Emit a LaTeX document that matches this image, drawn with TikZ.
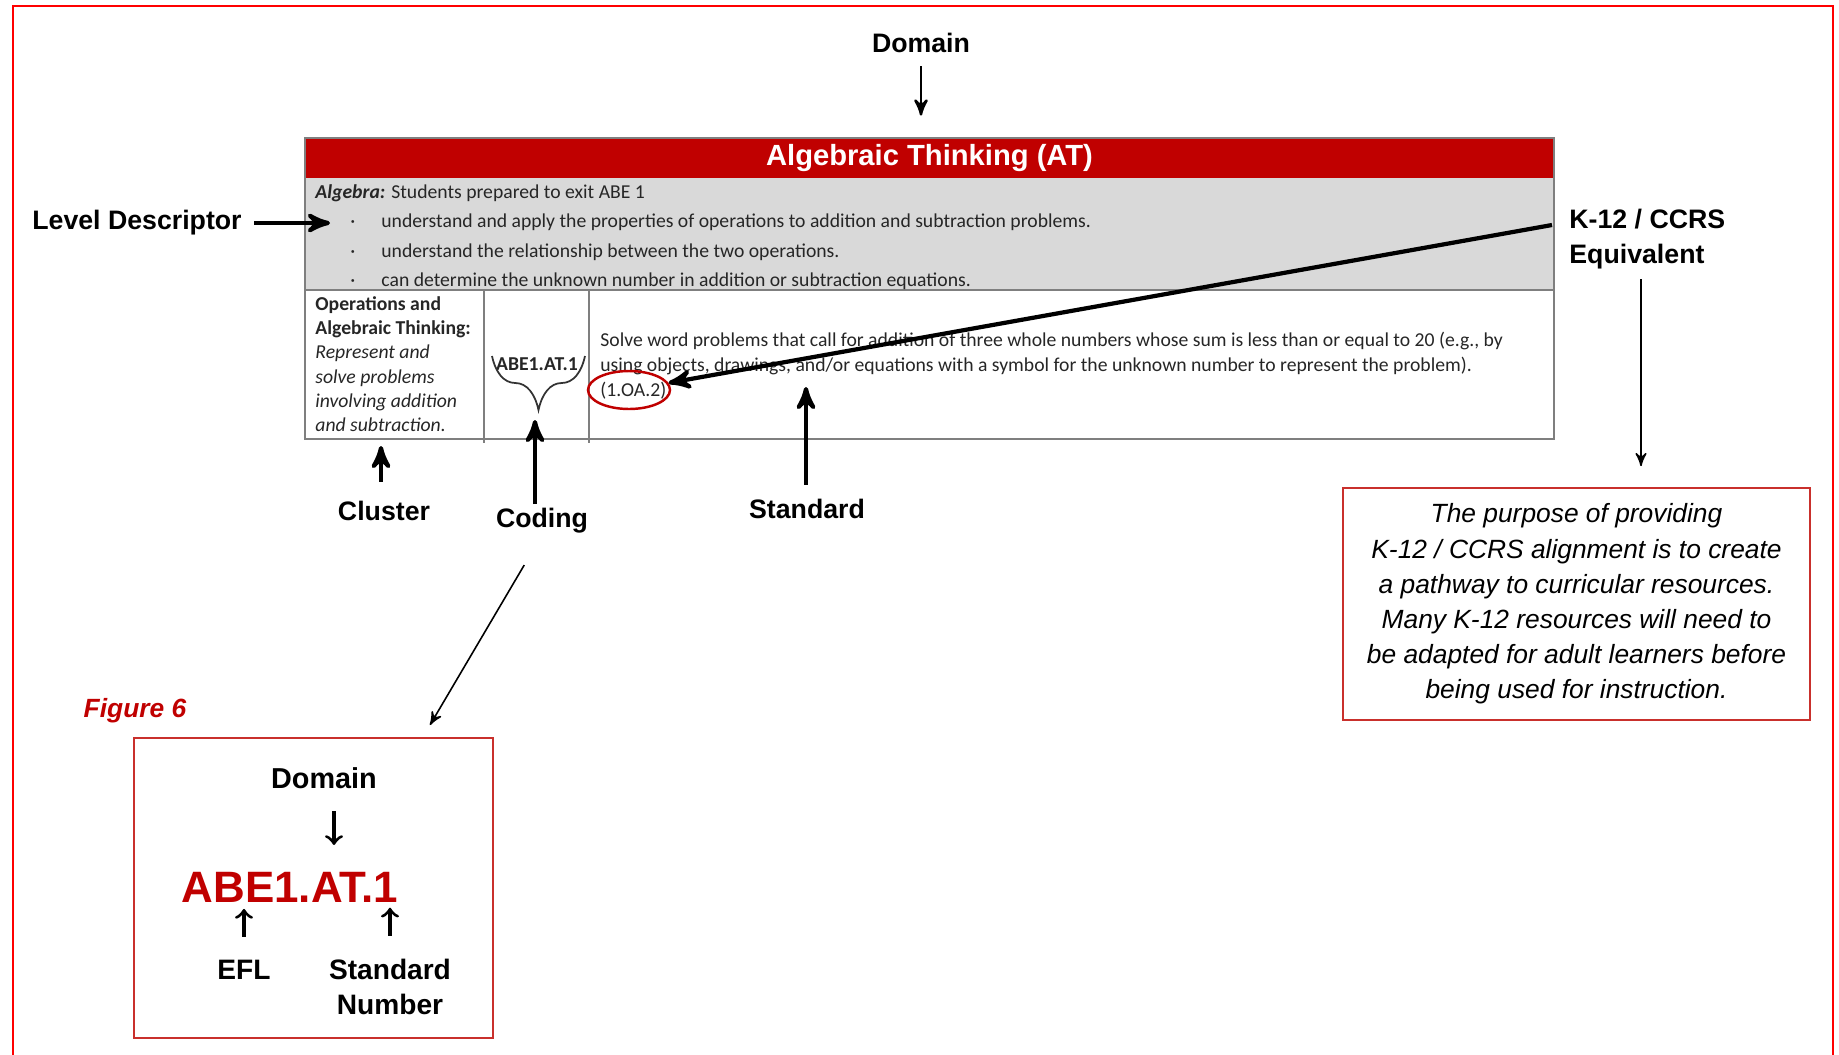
\documentclass[tikz,border=0pt]{standalone}
\usepackage{fontspec}
\setmainfont{Liberation Sans}
\newfontfamily\calib{Carlito}
\usetikzlibrary{arrows,shapes,positioning,decorations.pathreplacing}
\definecolor{barred}{HTML}{C00000}
\definecolor{framered}{HTML}{FF0000}
\definecolor{boxred}{HTML}{C9302C}
\definecolor{cellgray}{HTML}{D9D9D9}
\definecolor{rulegray}{HTML}{7F7F7F}

\begin{document}
\begin{tikzpicture}[x=0.1mm,y=-0.1mm,>=stealth',thick]
\tikzstyle{tag}=[inner sep=0pt,font=\fontsize{7.6}{10}\selectfont\bfseries]
\tikzstyle{cell}=[inner sep=0pt,anchor=west,text=black!85,text height=4pt,text depth=1.2pt,font=\calib\fontsize{5.6}{6.9}\selectfont]
\tikzstyle{block}=[inner sep=0pt,anchor=north west,align=left,text=black!85]
\tikzstyle{fat}=[->,line width=1.2pt]
\tikzstyle{slim}=[->,line width=0.45pt]
\tikzstyle{hook}=[-to,line width=0.9pt]

\useasboundingbox (0,0) rectangle (1839,1055);
\draw[framered,line width=0.6pt] (13,1070) -- (13,6) -- (1833,6) -- (1833,1070);

% the table
\fill[cellgray] (305,178) rectangle (1554,290);
\node[fill=barred,text=white,minimum width=124.9mm,minimum height=4mm,inner sep=0pt,
  font=\fontsize{8.3}{10}\selectfont\bfseries] (bar) at (929.5,158) {\raisebox{-0.6pt}{Algebraic Thinking (AT)}};
\draw[rulegray,line width=0.5pt] (305,138) rectangle (1554,439);
\draw[rulegray,line width=0.5pt] (305,290) -- (1554,290)
  (484,290) -- (484,443) (589,290) -- (589,443);

\node[cell] (alg) at (314,194) {\textbf{\textit{Algebra:}} Students prepared to exit ABE 1};
\node[cell] (b1) at (349,223) {·};
\node[cell] (b2) at (349,253) {·};
\node[cell] (b3) at (349,282) {·};
\node[cell] (d1) at (380,223) {understand and apply the properties of operations to addition and subtraction problems.};
\node[cell] (d2) at (380,253) {understand the relationship between the two operations.};
\node[cell] (d3) at (380,282) {can determine the unknown number in addition or subtraction equations.};

\node[block,font=\calib\fontsize{5.6}{6.9}\selectfont] (clus) at (314,295)
  {\textbf{Operations and}\\\textbf{Algebraic Thinking:}\\\textit{Represent and}\\
   \textit{solve problems}\\\textit{involving addition}\\\textit{and subtraction.}};

\node[cell,anchor=center,font=\calib\bfseries\fontsize{5.6}{6.9}\selectfont] (code) at (537,366) {ABE1.AT.1};
\draw[decorate,decoration={brace,mirror,amplitude=5.4mm},line width=0.5pt,black!80] (492,356) -- (585,356);

\node[block,font=\calib\fontsize{5.6}{7}\selectfont] (stdtext) at (599,331)
  {Solve word problems that call for addition of three whole numbers whose sum is less than or equal to 20 (e.g., by\\
   using objects, drawings, and/or equations with a symbol for the unknown number to represent the problem).\\
   (1.OA.2)};
\node[draw=barred,ellipse,line width=0.7pt,minimum width=8.2mm,minimum height=3.8mm,inner sep=0pt] (oval) at (629,390) {};

% labels round the table
\node[tag] (dom) at (921,43) {Domain};
\draw[->,line width=0.7pt,shorten <=1.2mm,shorten >=2.1mm] (dom.south) -- (dom.south |- bar.north);

\node[tag] (lvl) at (137,223) {Level Descriptor};
\coordinate (lvlhead) at (330,223);
\draw[fat,shorten <=1.1mm] (lvl.east) -- (lvlhead);

\node[tag,anchor=west,align=left] (k12) at (1568,239) {K-12 / CCRS\\Equivalent};
\coordinate (k12tail) at (1552,225);
\draw[fat] (k12tail) -- (oval);

\node[draw=boxred,line width=0.5pt,minimum width=46.7mm,minimum height=23.2mm,align=center,
  font=\fontsize{7.5}{10}\selectfont\itshape] (note) at (1576.5,604)
  {The purpose of providing\\K-12 / CCRS alignment is to create\\a pathway to curricular resources.\\
   Many K-12 resources will need to\\be adapted for adult learners before\\being used for instruction.};
\coordinate (k12drop) at (1641,279);
\draw[slim,shorten >=2.1mm] (k12drop) -- (k12drop |- note.north);

\node[tag] (clu) at (384,511) {Cluster};
\node[tag] (cod) at (542,521) {Coding};
\node[tag] (stdl) at (807,509) {Standard};
\coordinate (cluhead) at (381,446);
\coordinate (codhead) at (535,420);
\coordinate (stdhead) at (806,387);
\draw[fat,shorten <=1.8mm] (cluhead |- clu.north) -- (cluhead);
\draw[fat,shorten <=0.3mm] (codhead |- cod.north) -- (codhead);
\draw[fat,shorten <=1.3mm] (stdhead |- stdl.north) -- (stdhead);

% the code explained
\coordinate (figtip) at (430,725);
\draw[slim,shorten <=3.5mm] (cod.south) -- (figtip);
\node[tag,text=barred,font=\fontsize{7.5}{10}\selectfont\bfseries\itshape] (fig) at (135,711) {Figure 6};

\node[draw=boxred,line width=0.5pt,minimum width=35.9mm,minimum height=30mm] (codebox) at (313.5,888) {};
\node[tag,font=\fontsize{8.2}{10}\selectfont\bfseries] (dom2) at (324,778) {Domain};
\node[inner sep=0pt,text=barred,font=\fontsize{12.5}{14}\selectfont\bfseries] (abe) at (290,887) {ABE1.AT.1};
\node[tag,font=\fontsize{8}{10}\selectfont\bfseries] (efl) at (244,970) {EFL};
\node[tag,align=center,font=\fontsize{8}{10}\selectfont\bfseries] (snum) at (390,987) {Standard\\Number};
\draw[hook] ([xshift=1mm,yshift=-2.1mm]dom2.south) -- ++(0,34);
\draw[hook] ([yshift=2.2mm]efl.north) -- ++(0,-28);
\draw[hook] ([yshift=2.2mm]snum.north) -- ++(0,-28);
\end{tikzpicture}
\end{document}
